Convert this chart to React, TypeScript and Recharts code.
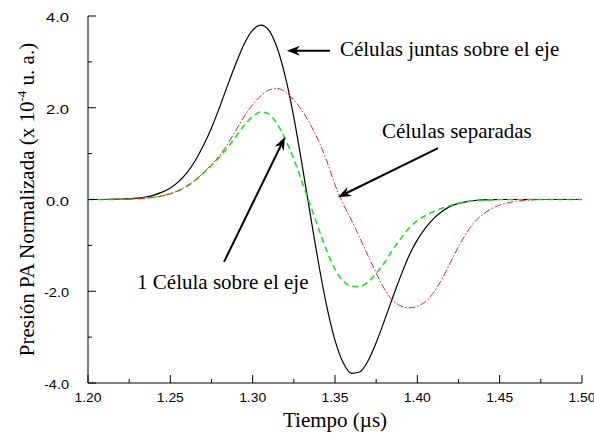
import React from "react"
import { LineChart, Line, XAxis, YAxis, ReferenceLine, ReferenceDot } from "recharts"

// tiempo (µs)
const TIME = [
  1.2, 1.205, 1.21, 1.215, 1.22, 1.225, 1.23, 1.235, 1.24, 1.245,
  1.25, 1.255, 1.26, 1.265, 1.27, 1.275, 1.28, 1.285, 1.29, 1.295,
  1.3, 1.305, 1.31, 1.315, 1.32, 1.325, 1.33, 1.335, 1.34, 1.345,
  1.35, 1.355, 1.36, 1.365, 1.37, 1.375, 1.38, 1.385, 1.39, 1.395,
  1.4, 1.405, 1.41, 1.415, 1.42, 1.425, 1.43, 1.435, 1.44, 1.445,
  1.45, 1.455, 1.46, 1.465, 1.47, 1.475, 1.48, 1.485, 1.49, 1.495, 1.5,
]

// células juntas sobre el eje (negro)
const JUNTAS = [
  0, 0, 0, 0.005, 0.01, 0.017, 0.03, 0.055, 0.095, 0.16,
  0.25, 0.39, 0.58, 0.84, 1.17, 1.56, 2.02, 2.51, 2.98, 3.4,
  3.69, 3.8, 3.68, 3.29, 2.65, 1.79, 0.76, -0.33, -1.39, -2.33,
  -3.07, -3.56, -3.79, -3.76, -3.52, -3.12, -2.64, -2.14, -1.66, -1.22,
  -0.88, -0.62, -0.41, -0.26, -0.15, -0.085, -0.045, -0.022, -0.01, -0.004,
  0, 0, 0, 0, 0, 0, 0, 0, 0, 0, 0,
]

// células separadas (rojo)
const SEPARADAS = [
  0, 0, 0, 0.003, 0.005, 0.009, 0.016, 0.029, 0.049, 0.08,
  0.127, 0.195, 0.29, 0.42, 0.58, 0.76, 0.96, 1.22, 1.52, 1.82,
  2.07, 2.26, 2.39, 2.42, 2.34, 2.17, 1.94, 1.64, 1.28, 0.84,
  0.32, -0.1, -0.45, -0.83, -1.22, -1.6, -1.95, -2.2, -2.32, -2.36,
  -2.33, -2.22, -2.02, -1.73, -1.38, -1.03, -0.72, -0.48, -0.32, -0.2,
  -0.12, -0.07, -0.04, -0.02, -0.01, 0, 0, 0, 0, 0, 0,
]

// 1 célula sobre el eje (verde)
const UNA = [
  0, 0, 0, 0.003, 0.005, 0.009, 0.016, 0.029, 0.049, 0.08,
  0.127, 0.195, 0.29, 0.415, 0.57, 0.74, 0.93, 1.14, 1.38, 1.62,
  1.81, 1.91, 1.86, 1.64, 1.3, 0.88, 0.38, -0.12, -0.63, -1.12,
  -1.52, -1.78, -1.89, -1.9, -1.8, -1.61, -1.38, -1.1, -0.85, -0.62,
  -0.46, -0.35, -0.26, -0.19, -0.13, -0.08, -0.05, -0.03, -0.015, -0.008,
  0, 0, 0, 0, 0, 0, 0, 0, 0, 0, 0,
]

const X_TICKS = [1.2, 1.225, 1.25, 1.275, 1.3, 1.325, 1.35, 1.375, 1.4, 1.425, 1.45, 1.475, 1.5]
const Y_TICKS = [-4, -3, -2, -1, 0, 1, 2, 3, 4]

const data = TIME.map((t, i) => ({ t, juntas: JUNTAS[i], separadas: SEPARADAS[i], una: UNA[i] }))

const SANS = "Liberation Sans, Arial, sans-serif"
const SERIF = "Liberation Serif, Times New Roman, serif"

const isMajorX = (v: number) => Math.abs(v * 20 - Math.round(v * 20)) < 1e-6
const isMajorY = (v: number) => Math.abs(v / 2 - Math.round(v / 2)) < 1e-6

// the original tick labels are stretched sideways
const BottomTick = (p: any) => {
  const major = isMajorX(p.payload.value)
  return (
    <g>
      <line x1={p.x} x2={p.x} y1={p.y} y2={p.y - (major ? 8 : 4)} stroke="#000" />
      {major && (
        <text x={p.x} y={p.y + 18.5} textAnchor="middle" fontFamily={SANS} fontSize={12}
          textLength={27} lengthAdjust="spacingAndGlyphs" fill="#000">
          {p.payload.value.toFixed(2)}
        </text>
      )}
    </g>
  )
}

const TopTick = (p: any) => {
  const major = isMajorX(p.payload.value)
  return <line x1={p.x} x2={p.x} y1={p.y} y2={p.y + (major ? 8 : 4)} stroke="#000" />
}

const LeftTick = (p: any) => {
  const v = p.payload.value
  const major = isMajorY(v)
  return (
    <g>
      <line x1={p.x} x2={p.x + (major ? 8 : 4)} y1={p.y} y2={p.y} stroke="#000" />
      {major && (
        <text x={p.x - 19} y={p.y + 6} textAnchor="end" fontFamily={SANS} fontSize={12}
          textLength={v < 0 ? 25 : 23} lengthAdjust="spacingAndGlyphs" fill="#000">
          {v.toFixed(1)}
        </text>
      )}
    </g>
  )
}

const RightTick = (p: any) => {
  const major = isMajorY(p.payload.value)
  return <line x1={p.x} x2={p.x - (major ? 8 : 4)} y1={p.y} y2={p.y} stroke="#000" />
}

const XTitle = ({ viewBox }: any) => (
  <text x={viewBox.x + viewBox.width / 2} y={viewBox.y + 44} textAnchor="middle" fontFamily={SERIF} fontSize={21} fill="#000">
    Tiempo (µs)
  </text>
)

const YTitle = ({ viewBox }: any) => {
  const cx = 34
  const cy = viewBox.y + viewBox.height / 2
  return (
    <text x={cx} y={cy} transform={`rotate(-90, ${cx}, ${cy})`} textAnchor="middle" fontFamily={SERIF} fontSize={21} fill="#000">
      Presión PA Normalizada (x 10
      <tspan dy={-8} fontSize={13}>-4</tspan>
      <tspan dy={8}> u. a.)</tspan>
    </text>
  )
}

const Arrow = (p: any) => {
  const { x1, y1, x2, y2 } = p
  const a = Math.atan2(y2 - y1, x2 - x1)
  const ux = Math.cos(a), uy = Math.sin(a)
  const px = -uy, py = ux
  const L = 13, W = 5, N = 9
  const bx = x2 - ux * L, by = y2 - uy * L
  const nx = x2 - ux * N, ny = y2 - uy * N
  const pts = `${x2},${y2} ${bx + px * W},${by + py * W} ${nx},${ny} ${bx - px * W},${by - py * W}`
  return (
    <g>
      <line x1={x1} y1={y1} x2={nx} y2={ny} stroke="#000" strokeWidth={2} />
      <polygon points={pts} fill="#000" />
    </g>
  )
}

const note = (text: string) => (p: any) => (
  <text x={p.cx} y={p.cy} fontFamily={SERIF} fontSize={21} fill="#000">{text}</text>
)

export default function App() {
  return (
    <div style={{ position: "absolute", left: 0, top: 0, width: 594, height: 439, background: "#fff" }}>
      <LineChart width={594} height={439} data={data} margin={{ top: 16, right: 12, bottom: 0, left: 0 }}>
        <XAxis
          dataKey="t" type="number" domain={[1.2, 1.5]} ticks={X_TICKS} interval={0} allowDataOverflow
          height={56} tickSize={0} tickMargin={0} tickLine={false}
          axisLine={{ stroke: "#000" }} tick={BottomTick} label={XTitle}
        />
        <XAxis
          xAxisId="top" orientation="top" dataKey="t" type="number" domain={[1.2, 1.5]} ticks={X_TICKS}
          interval={0} allowDataOverflow height={0} tickSize={0} tickMargin={0} tickLine={false}
          axisLine={{ stroke: "#000" }} tick={TopTick}
        />
        <YAxis
          type="number" domain={[-4, 4]} ticks={Y_TICKS} interval={0} allowDataOverflow width={88}
          tickSize={0} tickMargin={0} tickLine={false} axisLine={{ stroke: "#000" }} tick={LeftTick} label={YTitle}
        />
        <YAxis
          yAxisId="right" orientation="right" type="number" domain={[-4, 4]} ticks={Y_TICKS} interval={0}
          allowDataOverflow width={0} tickSize={0} tickMargin={0} tickLine={false}
          axisLine={{ stroke: "#000" }} tick={RightTick}
        />
        <Line type="monotone" dataKey="juntas" stroke="#000" strokeWidth={1.2} dot={false} isAnimationActive={false} />
        <Line type="monotone" dataKey="una" stroke="#22dd22" strokeWidth={1.6} strokeDasharray="6 4" dot={false} isAnimationActive={false} />
        <Line type="monotone" dataKey="separadas" stroke="#ee2222" strokeWidth={1} strokeDasharray="7 2 1.5 2" dot={false} isAnimationActive={false} />

        <ReferenceLine segment={[{ x: 1.347, y: 3.24 }, { x: 1.3208, y: 3.24 }]} shape={Arrow} />
        <ReferenceLine segment={[{ x: 1.4126, y: 1.12 }, { x: 1.3518, y: 0.05 }]} shape={Arrow} />
        <ReferenceLine segment={[{ x: 1.2826, y: -1.36 }, { x: 1.3196, y: 1.36 }]} shape={Arrow} />

        <ReferenceDot x={1.353} y={3.13} r={0} shape={note("Células juntas sobre el eje")} />
        <ReferenceDot x={1.3785} y={1.34} r={0} shape={note("Células separadas")} />
        <ReferenceDot x={1.2298} y={-1.95} r={0} shape={note("1 Célula sobre el eje")} />
      </LineChart>
    </div>
  )
}
